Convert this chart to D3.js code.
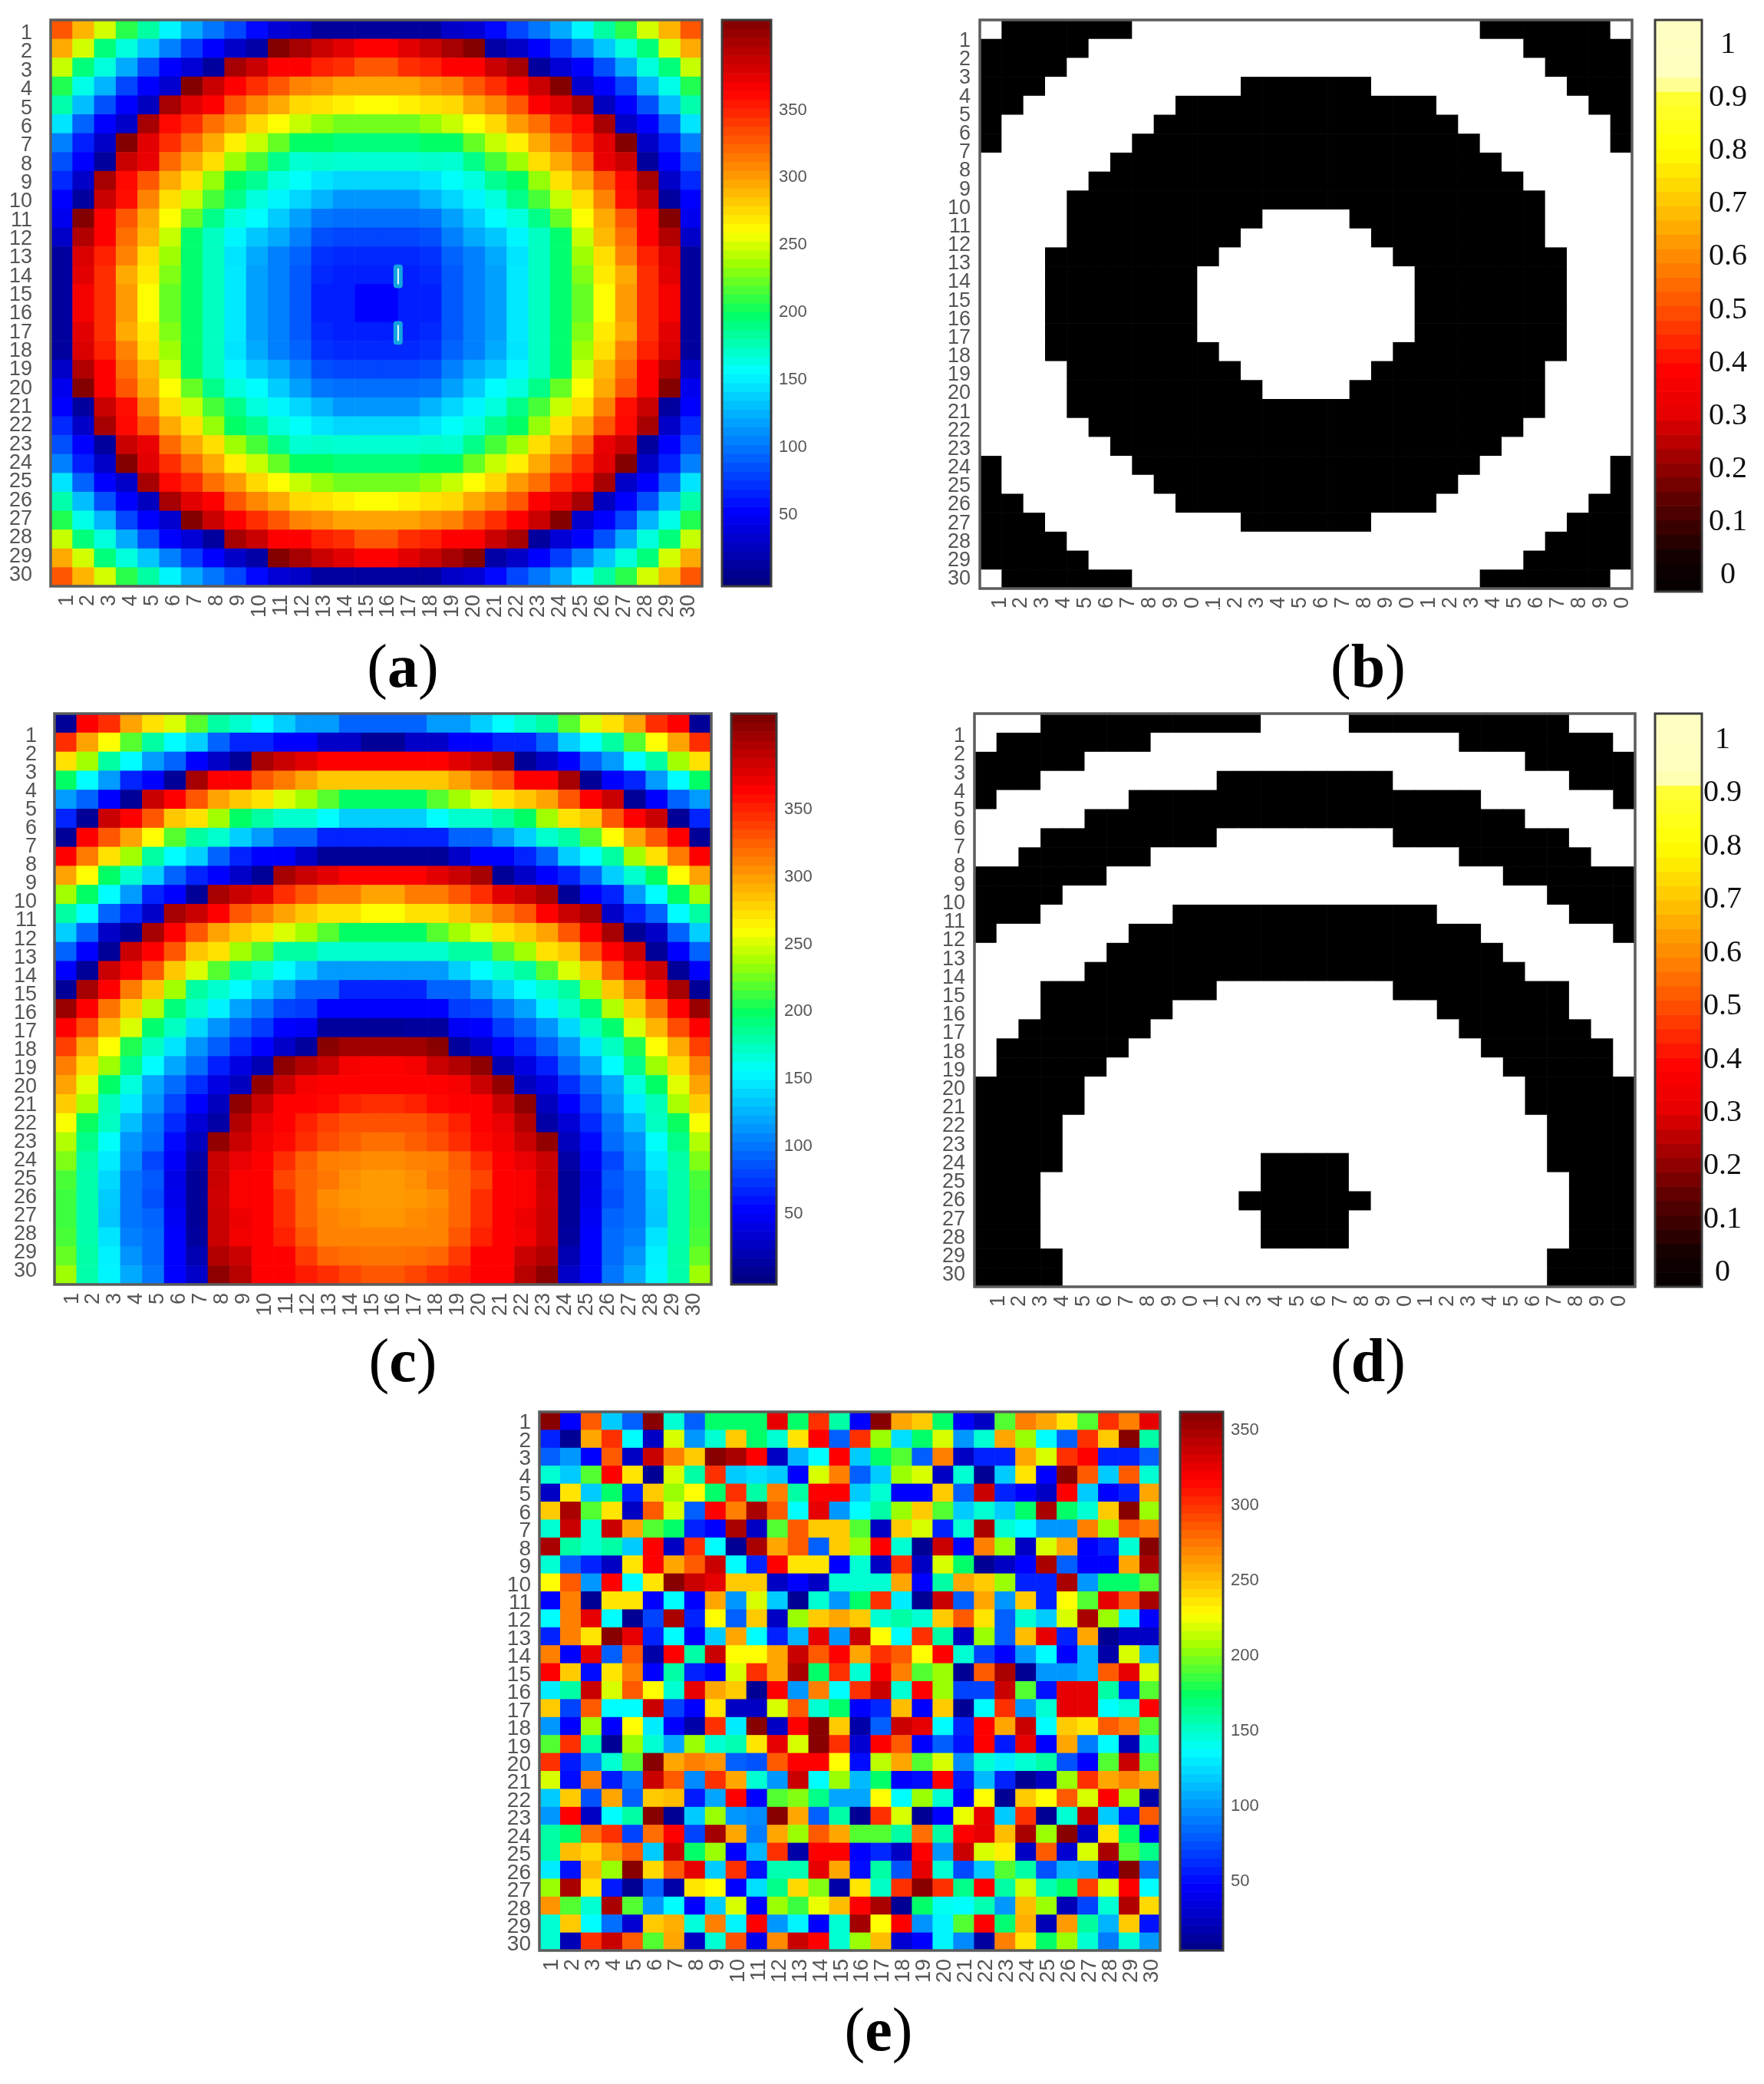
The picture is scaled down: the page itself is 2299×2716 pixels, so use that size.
<!DOCTYPE html>
<html><head><meta charset="utf-8">
<script src="https://cdn.jsdelivr.net/npm/d3@7/dist/d3.min.js"></script>
<style>html,body{margin:0;padding:0;background:#fff}svg{display:block;filter:blur(.6px)}</style></head>
<body><svg id="chart" width="2299" height="2716"></svg>
<script>
const rowLabels = d3.range(1, 31);
const colLabels = d3.range(1, 31);

const valuesA = [
[328,290,248,207,181,152,121,100,80,55,35,29,12,12,12,12,12,12,29,35,55,80,100,121,152,181,207,248,290,328],
[294,248,192,165,133,104,76,52,29,15,414,400,385,375,363,363,375,385,400,414,15,29,52,76,104,133,165,192,248,294],
[245,192,165,121,84,52,35,12,400,385,363,363,350,345,328,328,345,350,363,363,385,400,12,35,52,84,121,165,192,245],
[205,162,125,80,52,32,414,385,363,345,328,310,305,297,297,297,297,305,310,328,345,363,385,414,32,52,80,125,162,205],
[178,129,84,52,25,400,375,363,328,308,294,275,271,265,259,259,265,271,275,294,308,328,363,375,400,25,52,84,129,178],
[145,92,52,29,400,360,345,318,300,275,259,245,233,225,225,225,225,233,245,259,275,300,318,345,360,400,29,52,92,145],
[104,64,29,414,375,345,318,294,265,245,222,198,198,192,192,192,192,198,198,222,245,265,294,318,345,375,414,29,64,104],
[84,52,12,385,372,320,294,273,235,215,188,168,170,168,168,168,168,170,168,188,215,235,273,294,320,372,385,12,52,84],
[68,29,400,360,328,294,271,233,198,185,165,157,145,139,139,139,139,145,157,165,185,198,233,271,294,328,360,400,29,68],
[52,12,385,358,310,273,245,215,188,165,152,139,125,113,113,113,113,125,139,152,165,188,215,245,273,310,358,385,12,52],
[45,414,363,328,294,259,222,188,165,155,135,117,100,97,97,97,97,100,117,135,155,165,188,222,259,294,328,363,414,45],
[29,395,363,318,288,245,195,172,152,133,121,104,84,80,80,80,80,84,104,121,133,152,172,195,245,288,318,363,395,29],
[12,378,350,310,273,235,195,172,145,121,104,92,72,68,68,68,68,72,92,104,121,145,172,195,235,273,310,350,378,12],
[12,375,345,294,268,228,195,172,147,117,104,88,68,64,64,64,64,68,88,104,117,147,172,195,228,268,294,345,375,12],
[12,367,345,300,259,222,195,172,147,117,104,88,64,64,52,52,64,64,88,104,117,147,172,195,222,259,300,345,367,12],
[12,367,345,300,259,222,195,172,147,117,104,88,64,64,52,52,64,64,88,104,117,147,172,195,222,259,300,345,367,12],
[12,375,345,294,268,228,195,172,147,117,104,88,68,64,64,64,64,68,88,104,117,147,172,195,228,268,294,345,375,12],
[12,378,350,310,273,235,195,172,145,121,104,92,72,68,68,68,68,72,92,104,121,145,172,195,235,273,310,350,378,12],
[29,395,363,318,288,245,195,172,152,133,121,104,84,80,80,80,80,84,104,121,133,152,172,195,245,288,318,363,395,29],
[45,414,363,328,294,259,222,188,165,155,135,117,100,97,97,97,97,100,117,135,155,165,188,222,259,294,328,363,414,45],
[52,12,385,358,310,273,245,215,188,165,152,139,125,113,113,113,113,125,139,152,165,188,215,245,273,310,358,385,12,52],
[68,29,400,360,328,294,271,233,198,185,165,157,145,139,139,139,139,145,157,165,185,198,233,271,294,328,360,400,29,68],
[84,52,12,385,372,320,294,273,235,215,188,168,170,168,168,168,168,170,168,188,215,235,273,294,320,372,385,12,52,84],
[104,64,29,414,375,345,318,294,265,245,222,198,198,192,192,192,192,198,198,222,245,265,294,318,345,375,414,29,64,104],
[145,92,52,29,400,360,345,318,300,275,259,245,233,225,225,225,225,233,245,259,275,300,318,345,360,400,29,52,92,145],
[178,129,84,52,25,400,375,363,328,308,294,275,271,265,259,259,265,271,275,294,308,328,363,375,400,25,52,84,129,178],
[205,162,125,80,52,32,414,385,363,345,328,310,305,297,297,297,297,305,310,328,345,363,385,414,32,52,80,125,162,205],
[245,192,165,121,84,52,35,12,400,385,363,363,350,345,328,328,345,350,363,363,385,400,12,35,52,84,121,165,192,245],
[294,248,192,165,133,104,76,52,29,15,414,400,385,375,363,363,375,385,400,414,15,29,52,76,104,133,165,192,248,294],
[328,290,248,207,181,152,121,100,80,55,35,29,12,12,12,12,12,12,29,35,55,80,100,121,152,181,207,248,290,328]
];
const valuesC = [
[9,363,345,297,271,250,218,181,169,155,136,115,115,92,92,92,92,115,115,136,155,169,181,218,250,271,297,345,363,9],
[345,297,259,218,181,155,136,92,66,66,52,52,29,29,9,9,29,29,52,52,66,66,92,136,155,181,218,259,297,345],
[271,236,181,155,115,92,52,29,9,400,385,375,363,363,363,363,363,363,375,385,400,9,29,52,92,115,155,181,236,271],
[198,155,115,66,52,9,400,363,363,328,313,297,282,282,282,282,282,282,297,313,328,363,363,400,9,52,66,115,155,198],
[115,92,52,9,385,363,328,297,282,271,250,236,218,198,198,198,198,218,236,250,271,282,297,328,363,385,9,52,92,115],
[66,9,385,363,328,282,271,236,198,181,169,169,155,136,136,136,136,155,169,169,181,198,236,271,282,328,363,385,9,66],
[9,363,328,297,259,218,181,169,136,115,92,92,66,66,66,66,66,66,92,92,115,136,169,181,218,259,297,328,363,9],
[363,313,271,236,181,155,136,92,66,52,52,29,9,9,9,9,9,9,29,52,52,66,92,136,155,181,236,271,313,363],
[297,259,198,169,136,92,66,52,29,9,400,385,375,363,363,363,363,375,385,400,9,29,52,66,92,136,169,198,259,297],
[236,198,155,115,66,52,9,400,385,375,345,328,313,313,297,297,313,313,328,345,375,385,400,9,52,66,115,155,198,236],
[181,155,92,66,29,400,385,363,328,313,297,282,271,271,259,259,271,271,282,297,313,328,363,385,400,29,66,92,155,181],
[136,92,29,9,400,363,328,297,282,271,250,236,218,198,198,198,198,218,236,250,271,282,297,328,363,400,9,29,92,136],
[92,52,9,385,363,328,282,271,236,218,181,181,169,169,169,169,169,169,181,181,218,236,271,282,328,363,385,9,52,92],
[52,9,385,363,328,282,250,218,181,169,155,136,115,115,115,115,115,115,136,155,169,181,218,250,282,328,363,385,9,52],
[9,400,363,313,282,236,181,169,155,136,115,92,92,66,66,66,66,92,92,115,136,155,169,181,236,282,313,363,400,9],
[405,363,316,280,240,192,170,150,118,100,80,76,52,52,52,52,52,52,76,80,100,118,150,170,192,240,280,316,363,405],
[363,332,290,250,195,172,140,112,92,76,52,48,12,12,9,9,12,12,48,52,76,92,112,140,172,195,250,290,332,363],
[338,294,259,205,172,145,112,90,68,52,30,12,412,402,402,402,402,412,12,30,52,68,90,112,145,172,205,259,294,338],
[312,275,235,188,155,120,96,64,40,20,410,395,385,367,363,363,367,385,395,410,20,40,64,96,120,155,188,235,275,312],
[297,252,198,165,120,96,70,40,25,408,385,367,363,363,363,363,363,363,367,385,408,25,40,70,96,120,165,198,252,297],
[280,238,175,148,112,80,52,25,410,385,363,363,360,350,345,345,350,360,363,363,385,410,25,52,80,112,148,175,238,280],
[258,200,172,129,100,68,35,15,395,372,363,350,338,330,330,330,330,338,350,363,372,395,15,35,68,100,129,172,200,258],
[240,188,157,113,96,55,25,408,385,368,360,345,332,325,318,318,325,332,345,360,368,385,408,25,55,96,113,157,188,240],
[228,180,148,108,80,50,15,385,372,363,345,325,312,310,306,306,310,312,325,345,363,372,385,15,50,80,108,148,180,228],
[215,178,140,100,88,42,9,385,365,363,335,322,315,305,300,300,305,315,322,335,363,365,385,9,42,88,100,140,178,215],
[212,178,135,100,84,45,9,383,365,363,345,322,306,302,300,300,302,306,322,345,363,365,383,9,45,84,100,135,178,212],
[212,178,133,100,92,48,9,385,370,363,345,322,310,306,302,302,306,310,322,345,363,370,385,9,48,92,100,133,178,212],
[215,178,145,104,96,52,12,385,368,363,350,328,310,310,310,310,310,310,328,350,363,368,385,12,52,96,104,145,178,215],
[222,180,150,112,96,52,20,395,385,363,363,340,322,318,316,316,318,322,340,363,363,385,395,20,52,96,112,150,180,222],
[235,178,152,121,100,52,29,410,393,363,363,352,345,335,328,328,335,345,352,363,363,393,410,29,52,100,121,152,178,235]
];
const valuesE = [
[360,46,285,118,80,360,147,80,172,172,172,326,172,300,158,46,360,258,245,172,46,25,190,272,258,236,190,300,272,326],
[58,8,258,300,136,25,218,100,147,245,172,147,236,317,80,300,205,125,172,218,100,147,258,205,136,80,300,245,360,158],
[80,100,46,285,25,336,272,245,360,348,317,25,110,136,317,118,172,190,80,272,25,58,58,258,218,300,317,58,58,80],
[147,118,190,317,236,8,218,158,300,118,125,118,46,218,272,80,118,205,218,25,147,8,118,236,46,360,285,118,285,147],
[25,236,118,172,58,245,205,227,172,300,158,272,158,317,317,118,147,46,46,245,80,336,58,46,25,317,118,46,58,258],
[245,348,190,236,25,285,218,80,317,272,348,285,136,326,100,136,158,205,245,190,118,147,118,172,348,172,147,245,360,205],
[147,336,147,336,258,190,172,58,46,348,25,190,285,245,245,190,25,245,218,58,147,348,147,136,100,100,272,205,285,272],
[348,158,147,158,118,317,25,300,136,8,348,258,285,80,245,205,317,147,8,336,46,272,205,25,218,258,46,58,147,360],
[147,80,58,25,236,317,258,285,336,136,58,317,236,236,46,147,25,300,25,218,172,8,25,46,348,80,46,46,258,348],
[227,285,100,317,136,236,360,336,326,245,245,25,46,25,147,147,147,258,46,158,258,245,205,58,58,348,100,172,172,190],
[46,272,8,236,236,46,136,46,258,100,218,118,8,147,100,172,300,130,8,336,80,258,100,245,58,227,190,326,285,348],
[136,272,326,136,8,70,348,58,227,80,245,25,205,245,258,245,147,158,147,245,285,236,80,147,118,218,348,205,130,46],
[58,272,236,360,326,58,136,46,118,258,136,58,110,326,100,336,227,136,300,158,25,205,80,250,326,58,258,8,25,25],
[272,46,326,80,285,15,317,158,336,227,227,258,336,285,317,258,300,285,227,317,147,70,46,100,136,46,110,15,218,110],
[317,245,50,236,272,46,158,58,46,218,300,258,348,172,300,147,317,272,190,205,8,285,348,8,100,100,110,285,326,218],
[130,158,336,218,285,227,147,326,258,245,8,317,100,272,136,300,336,147,317,205,70,70,336,190,52,326,326,158,58,190],
[245,70,285,136,136,336,70,46,236,25,25,218,285,147,172,46,60,250,46,245,8,136,300,100,147,326,326,136,147,317],
[100,46,205,46,227,130,46,15,300,130,360,25,317,360,245,15,80,336,326,136,58,317,258,336,136,245,236,285,272,190],
[190,300,158,8,205,147,105,205,147,155,236,326,218,360,300,30,317,285,46,80,52,317,55,326,46,258,90,136,20,150],
[300,55,90,147,190,360,258,272,265,80,75,285,317,317,227,50,212,258,190,218,95,147,130,147,158,75,46,190,336,190],
[218,50,272,55,90,336,285,95,300,258,147,100,336,136,205,112,172,46,50,317,55,112,58,8,25,205,300,258,270,258],
[118,245,75,258,80,245,250,55,105,317,46,190,200,165,105,105,227,136,205,147,46,227,8,245,227,285,218,317,205,15],
[100,317,25,136,158,360,8,118,205,100,95,360,258,80,158,8,300,218,8,46,222,326,118,300,8,147,340,118,55,285],
[158,172,278,300,70,278,317,70,350,258,90,258,205,285,258,190,190,158,278,158,317,326,250,348,205,360,25,236,172,46],
[158,250,240,265,285,118,336,172,205,46,110,300,15,317,317,46,60,25,317,100,336,218,232,25,285,30,218,348,190,165],
[130,52,252,205,360,240,285,326,118,300,52,155,155,326,258,50,158,75,326,147,72,118,190,158,75,110,105,35,360,85],
[205,348,236,55,8,80,15,236,227,46,125,165,240,200,15,236,150,300,360,300,165,317,158,215,155,172,295,218,317,136],
[265,190,147,348,190,100,136,46,118,218,46,205,185,222,250,317,348,8,172,140,136,155,100,250,205,20,70,147,345,240],
[147,245,136,85,30,245,255,145,272,133,317,100,133,46,147,350,227,317,98,133,190,317,170,255,20,262,160,110,245,52],
[147,20,300,336,285,190,258,25,147,288,40,268,336,317,147,205,250,30,46,133,95,12,272,236,172,205,147,90,147,100]
];
const bitsB = [
"100000011111111111111110000001","000001111111111111111111100000","000011111111111111111111110000",
"000111111111000000111111111000","001111111000000000000111111100","011111110000000000000011111110",
"011111100000000000000001111110","111111000000000000000000111111","111110000000000000000000011111",
"111100000000000000000000001111","111100000000011110000000001111","111100000000111111000000001111",
"111000000001111111100000000111","111000000011111111110000000111","111000000011111111110000000111",
"111000000011111111110000000111","111000000011111111110000000111","111000000001111111100000000111",
"111100000000111111000000001111","111100000000011110000000001111","111100000000000000000000001111",
"111110000000000000000000011111","111111000000000000000000111111","011111100000000000000001111110",
"011111110000000000000011111110","001111111000000000000111111100","000111111111000000111111111000",
"000011111111111111111111110000","000001111111111111111111100000","100000011111111111111110000001"
];
const bitsD = [
"111000000000011110000000000111","100000001111111111111100000001","000001111111111111111111100000",
"000111111110000000011111111000","011111100000000000000001111110","111110000000000000000000011111",
"111000000001111111100000000111","110000001111111111111100000011","000000111111111111111111000000",
"000011111111111111111111110000","000111111000000000000111111000","011111100000000000000001111110",
"111111000000000000000000111111","111110000000000000000000011111","111000000001111111100000000111",
"111000000111111111111000000111","110000001111111111111100000011","100000011111111111111110000001",
"100000111111111111111111000001","000001111111111111111111100000","000001111111111111111111100000",
"000011111111111111111111110000","000011111111111111111111110000","000011111111100001111111110000",
"000111111111100001111111111000","000111111111000000111111111000","000111111111100001111111111000",
"000111111111100001111111111000","000011111111111111111111110000","000011111111111111111111110000"
];
const jetTicks = [50,100,150,200,250,300,350];
const hotTicks = [0,0.1,0.2,0.3,0.4,0.5,0.6,0.7,0.8,0.9,1];

const jetStops = [[0,"#000082"],[.125,"#0000ff"],[.375,"#00ffff"],[.477,"#00ff64"],[.568,"#a0ff00"],[.625,"#ffff00"],[.875,"#ff0000"],[1,"#820000"]];
const jetT = d3.scaleLinear().domain(jetStops.map(d=>d[0])).range(jetStops.map(d=>d[1])).interpolate(d3.interpolateRgb);
const hotStops = [[-.05,"#000000"],[.03,"#120000"],[.15,"#660000"],[.3,"#e60000"],[.38,"#ff0000"],[.5,"#ff5000"],[.6,"#ff8c00"],[.7,"#ffc800"],[.8,"#ffff00"],[.915,"#ffff3c"],[.925,"#ffffbe"],[1.1,"#ffffc8"]];
const hot = d3.scaleLinear().domain(hotStops.map(d=>d[0])).range(hotStops.map(d=>d[1])).interpolate(d3.interpolateRgb);

const panels = [
 {id:"a",vals:valuesA,kind:"jet",cmax:415,cmin:0,box:[66,26,915,764],bar:[941,1005,26,764],barDom:[-4,416],gap:24,fs:27,rowL:[42,748],colL:[85,895],cap:[525,895],ticks:jetTicks},
 {id:"b",vals:bitsB.map(r=>Array.from(r,Number)),kind:"hot",box:[1277,26,2127,767],bar:[2157,2218,26,771],barDom:[-.035,1.043],gap:12,fs:27,rowL:[52,753],colL:[1301,2112],cap:[1783,895],ticks:hotTicks,clip:794,hotX:34},
 {id:"c",vals:valuesC,kind:"jet",cmax:415,cmin:0,box:[71,930,927,1674],bar:[953,1012,930,1674],barDom:[-3,420],gap:23,fs:27,rowL:[958,1655],colL:[92,902],cap:[525,1800],ticks:jetTicks},
 {id:"d",vals:bitsD.map(r=>Array.from(r,Number)),kind:"hot",box:[1270,930,2131,1677],bar:[2157,2218,930,1677],barDom:[-.03,1.045],gap:12,fs:27,rowL:[958,1660],colL:[1299,2108],cap:[1783,1800],ticks:hotTicks,clip:1703,hotX:27},
 {id:"e",vals:valuesE,kind:"jet",cmax:362,cmin:1,box:[703,1840,1512,2542],bar:[1538,1594,1840,2542],barDom:[3,361.5],gap:11,fs:28,rowL:[1853,2533],colL:[717,1499],cap:[1145,2672],ticks:jetTicks}
];

const svg = d3.select("#chart");
const defs = svg.append("defs");
const sans = "'Liberation Sans',Arial,sans-serif";

panels.forEach(p => {
  const [x0,y0,x1,y1] = p.box;
  const g = svg.append("g").attr("class","panel-"+p.id);
  const x = d3.scaleBand().domain(colLabels).range([x0,x1]);
  const y = d3.scaleBand().domain(rowLabels).range([y0,y1]);
  const rowPos = d3.scalePoint().domain(rowLabels).range(p.rowL);
  const colPos = d3.scalePoint().domain(colLabels).range(p.colL);
  const jetScale = d3.scaleLinear().domain([p.cmin,p.cmax]).range([0,1]);
  const cellColor = p.kind==="jet" ? v=>jetT(jetScale(v)) : d3.scaleOrdinal([0,1],["#000000","#ffffff"]);
  const barColor = p.kind==="jet" ? v=>jetT(jetScale(v)) : hot;

  const cells = p.vals.flatMap((row,r)=>row.map((v,c)=>({r:r+1,c:c+1,v})));
  g.append("g").selectAll("rect").data(cells).join("rect")
    .attr("x",d=>x(d.c)).attr("y",d=>y(d.r))
    .attr("width",x.bandwidth()+.6).attr("height",y.bandwidth()+.6)
    .attr("fill",d=>cellColor(d.v));
  g.append("rect").attr("x",x0).attr("y",y0).attr("width",x1-x0).attr("height",y1-y0)
    .attr("fill","none").attr("stroke","#5c5c5c").attr("stroke-width",3.5);

  if(p.id==="a"){
    const marks = g.append("g").selectAll("g").data([14,17]).join("g");
    marks.append("rect").attr("x",x(17)-6).attr("y",d=>y(d)-1).attr("width",12).attr("height",y.bandwidth()+6).attr("rx",4)
      .attr("fill","#12a5e0");
    marks.append("rect").attr("x",x(17)-.8).attr("y",d=>y(d)+4).attr("width",1.8).attr("height",y.bandwidth()-4)
      .attr("fill","#ffffff");
  }

  const axL = g.append("g").attr("transform",`translate(${x0-p.gap},0)`)
    .call(d3.axisLeft(rowPos).tickSize(0).tickPadding(0));
  axL.select(".domain").remove();
  axL.selectAll("text").attr("font-family",sans).attr("font-size",p.fs).attr("fill","#555");

  if(p.clip){
    defs.append("clipPath").attr("id","clip-"+p.id).append("rect")
      .attr("x",x0-20).attr("y",y1).attr("width",x1-x0+40).attr("height",p.clip-y1);
  }
  const axB = g.append("g").attr("transform",`translate(0,${y1+11})`)
    .call(d3.axisBottom(colPos).tickSize(0).tickPadding(0));
  axB.select(".domain").remove();
  axB.selectAll("text").attr("font-family",sans).attr("font-size",p.fs).attr("fill","#555")
    .attr("text-anchor","end").attr("dy",0).attr("y",0)
    .attr("transform","rotate(-90)").attr("dx",0).attr("x",0)
    .style("dominant-baseline","central");
  if(p.clip){
    const holder = g.append("g").attr("clip-path",`url(#clip-${p.id})`);
    holder.node().appendChild(axB.node());
  }

  const [bx0,bx1,by0,by1] = p.bar;
  const by = d3.scaleLinear().domain(p.barDom).range([by1,by0]);
  const n = p.kind==="jet" ? 64 : 40;
  const step = (p.barDom[1]-p.barDom[0])/n;
  const lv = d3.range(n).map(i=>p.barDom[0]+step*(i+.5));
  g.append("g").selectAll("rect").data(lv).join("rect")
    .attr("x",bx0).attr("width",bx1-bx0)
    .attr("y",d=>by(d+step/2)).attr("height",d=>by(d-step/2)-by(d+step/2)+.6)
    .attr("fill",d=>barColor(d));
  g.append("rect").attr("x",bx0).attr("y",by0).attr("width",bx1-bx0).attr("height",by1-by0)
    .attr("fill","none").attr("stroke","#3c3c3c").attr("stroke-width",3);
  const axR = g.append("g").attr("transform",`translate(${bx1+(p.kind==="jet"?10:p.hotX)},0)`)
    .call(d3.axisRight(by).tickValues(p.ticks).tickSize(0).tickPadding(0).tickFormat(d=>String(d)));
  axR.select(".domain").remove();
  axR.selectAll("text")
    .attr("font-family",p.kind==="jet"?sans:"'Liberation Serif',serif")
    .attr("font-size",p.kind==="jet"?22:40).attr("fill",p.kind==="jet"?"#555":"#111");
  if(p.kind==="hot"){
    axR.selectAll("text").attr("text-anchor","middle").attr("x",0);
  }

  const cap = g.append("text").attr("x",p.cap[0]).attr("y",p.cap[1]).attr("text-anchor","middle")
    .attr("font-family","'Liberation Serif',serif").attr("font-size",80).attr("fill","#000");
  cap.append("tspan").text("(");
  cap.append("tspan").attr("font-weight","bold").text(p.id);
  cap.append("tspan").text(")");
});
</script></body></html>
